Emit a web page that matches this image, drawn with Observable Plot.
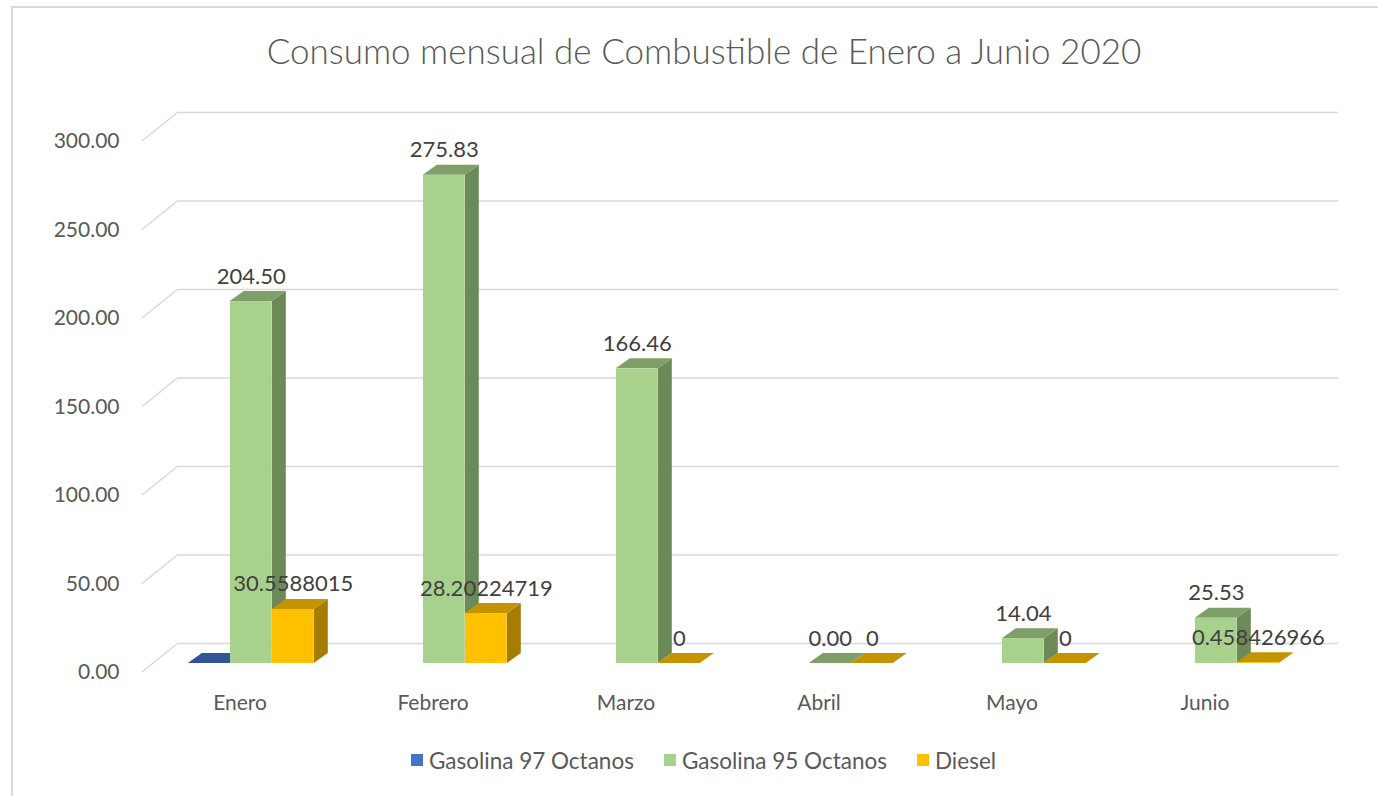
<!DOCTYPE html>
<html>
<head>
<meta charset="utf-8">
<script src="https://cdn.jsdelivr.net/npm/d3@7"></script>
<script src="https://cdn.jsdelivr.net/npm/@observablehq/plot@0.6"></script>
<style>
  html, body { margin: 0; padding: 0; background: #fff; }
  body { width: 1378px; height: 796px; position: relative; overflow: hidden; font-family: Lato, "Open Sans", sans-serif; }
  #frame { position: absolute; left: 11px; top: 6px; width: 1400px; height: 820px; border-left: 2px solid #D9D9D9; border-top: 2px solid #D9D9D9; }
  #title { position: absolute; left: 0; width: 1408px; top: 29px; height: 42px; line-height: 42px; text-align: center; font-size: 35px; font-weight: 300; color: #595959; }
  #chart { position: absolute; left: 0; top: 90px; }
  #legend { position: absolute; left: 0; width: 1407px; top: 748px; height: 24px; display: flex; justify-content: center; align-items: center; font-size: 22.5px; color: #595959; }
  .item { display: flex; align-items: center; margin: 0 15px; }
  .sw { width: 12px; height: 12px; margin-right: 6px; }
</style>
</head>
<body>
<div id="frame"></div>
<div id="title">Consumo mensual de Combustible de Enero a Junio 2020</div>
<div id="chart"></div>
<div id="legend"></div>
<script>
// ---- data ----
const months = ["Enero", "Febrero", "Marzo", "Abril", "Mayo", "Junio"];
const seriesNames = ["Gasolina 97 Octanos", "Gasolina 95 Octanos", "Diesel"];
const gasolina97 = [0, null, null, null, null, null];
const gasolina95 = [204.50, 275.83, 166.46, 0.00, 14.04, 25.53];
const diesel = [30.5588015, 28.20224719, 0, 0, 0, 0.458426966];
const yTicks = [0, 50, 100, 150, 200, 250, 300];

// ---- styles ----
const colors = [
  {front: "#4472C4", side: "#2A4A85", top: "#2F5597"},
  {front: "#A9D18E", side: "#6C8A58", top: "#7F9F69"},
  {front: "#FFC000", side: "#A67D00", top: "#C49300"}
];
const BAR_W = 42;                 // bar width in px
const PLANE = {dx: 11.3, dy: -9}; // bar plane relative to front plane
const DEPTH = {dx: 14, dy: -10};  // bar depth projection
const WALL = {dx: 36, dy: -29};   // back wall projection
const GRID = "#D9D9D9";

const valuesBySeries = [gasolina97, gasolina95, diesel];
const rows = [];
valuesBySeries.forEach((vals, i) => months.forEach((m, j) => {
  if (vals[j] != null) rows.push({month: m, series: seriesNames[i], i, value: vals[j]});
}));

const bandOf = (x, dims) => typeof x.bandwidth === "function" ? x.bandwidth()
  : (dims.width - dims.marginLeft - dims.marginRight) / months.length;

// diagonal grid segments from front plane to back wall
const wallDiagonals = (index, scales, values, dims) => {
  const {y} = scales;
  const g = d3.create("svg:g").attr("stroke", GRID).attr("stroke-width", 1.5);
  for (const t of yTicks) {
    g.append("line")
      .attr("x1", dims.marginLeft).attr("y1", y(t))
      .attr("x2", dims.marginLeft + WALL.dx).attr("y2", y(t) + WALL.dy);
  }
  return g.node();
};

// side and top faces of the 3D bars
const barFaces = (index, scales, values, dims) => {
  const {x, y} = scales;
  const bw = bandOf(x, dims);
  const g = d3.create("svg:g");
  months.forEach((m, j) => {
    valuesBySeries.forEach((vals, i) => {
      const v = vals[j];
      if (v == null) return;
      const xl = x(m) + bw / 2 + PLANE.dx - BAR_W * 1.5 + BAR_W * i;
      const xr = xl + BAR_W;
      const y0 = y(0) + PLANE.dy, yt = y(v) + PLANE.dy;
      const pts = a => a.map(p => p.join(",")).join(" ");
      if (y0 - yt > 0.01) {
        g.append("polygon").attr("fill", colors[i].side)
          .attr("points", pts([[xr, y0], [xr, yt], [xr + DEPTH.dx, yt + DEPTH.dy], [xr + DEPTH.dx, y0 + DEPTH.dy]]));
      }
      g.append("polygon").attr("fill", colors[i].top)
        .attr("points", pts([[xl, yt], [xr, yt], [xr + DEPTH.dx, yt + DEPTH.dy], [xl + DEPTH.dx, yt + DEPTH.dy]]));
    });
  });
  return g.node();
};

const width = 1378, height = 640;
const marginLeft = 142, marginRight = 76, marginTop = 51, marginBottom = 58;
const band = (width - marginLeft - marginRight) / months.length;

const frontBars = valuesBySeries.map((vals, i) => {
  const insetLeft = band / 2 - BAR_W * 1.5 + BAR_W * i;
  const insetRight = band - insetLeft - BAR_W;
  return Plot.barY(rows.filter(d => d.i === i), {
    x: "month", y1: () => 0, y2: "value",
    fill: colors[i].front, insetLeft, insetRight, dx: PLANE.dx, dy: PLANE.dy
  });
});

const fmt2 = d3.format(".2f");
const labels = [
  Plot.text(rows.filter(d => d.i === 1), {
    x: "month", y: "value", text: d => fmt2(d.value),
    dx: PLANE.dx, dy: PLANE.dy - 25, fill: "#404040", fontSize: 22
  }),
  Plot.text(rows.filter(d => d.i === 2), {
    x: "month", y: "value", text: d => String(d.value),
    dx: PLANE.dx + BAR_W, dy: PLANE.dy - 25, fill: "#404040", fontSize: 22
  })
];

const chart = Plot.plot({
  width, height, marginLeft, marginRight, marginTop, marginBottom,
  style: {fontFamily: "Lato, 'Open Sans', sans-serif", fontSize: "21px", color: "#595959", background: "transparent"},
  x: {domain: months, padding: 0, label: null, tickSize: 0, tickPadding: 23},
  y: {domain: [0, 300], ticks: yTicks, tickFormat: fmt2, label: null, tickSize: 0, tickPadding: 23},
  marks: [
    Plot.ruleY(yTicks, {stroke: GRID, strokeWidth: 1.5, dx: WALL.dx, dy: WALL.dy}),
    wallDiagonals,
    barFaces,
    ...frontBars,
    ...labels
  ]
});
document.getElementById("chart").appendChild(chart);

// legend
const legend = document.getElementById("legend");
seriesNames.forEach((name, i) => {
  const item = document.createElement("div");
  item.className = "item";
  const sw = document.createElement("div");
  sw.className = "sw";
  sw.style.background = colors[i].front;
  const t = document.createElement("span");
  t.textContent = name;
  item.appendChild(sw); item.appendChild(t);
  legend.appendChild(item);
});
</script>
</body>
</html>
